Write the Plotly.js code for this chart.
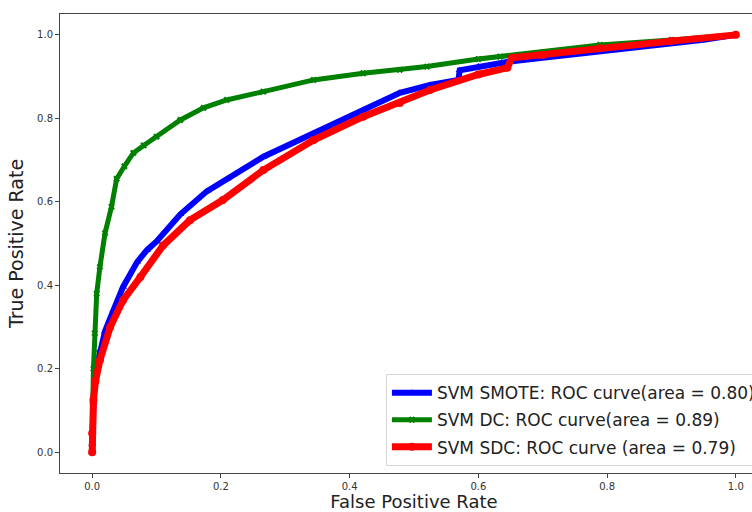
<!DOCTYPE html>
<html>
<head>
<meta charset="utf-8">
<script src="https://cdn.plot.ly/plotly-3.0.1.min.js"></script>
<style>html,body{margin:0;padding:0;overflow:hidden;background:#fff}</style>
</head>
<body>
<div id="chart"></div>
<script>
// SVM SMOTE
const smoteFpr = [0, 0, 0.002, 0.005, 0.012, 0.02, 0.033, 0.048, 0.07, 0.085, 0.10, 0.137, 0.178, 0.21, 0.266, 0.344, 0.421, 0.478, 0.525, 0.569, 0.571, 0.60, 0.649, 0.70, 0.789, 0.88, 0.95, 1.0];
const smoteTpr = [0, 0.02, 0.12, 0.19, 0.245, 0.29, 0.34, 0.396, 0.456, 0.484, 0.505, 0.570, 0.625, 0.655, 0.708, 0.764, 0.82, 0.861, 0.88, 0.892, 0.915, 0.924, 0.936, 0.945, 0.96, 0.975, 0.988, 1.0];
// SVM DC
const dcFpr = [0, 0, 0.001, 0.002, 0.004, 0.007, 0.012, 0.02, 0.03, 0.038, 0.05, 0.064, 0.08, 0.10, 0.137, 0.173, 0.209, 0.266, 0.344, 0.421, 0.478, 0.52, 0.60, 0.634, 0.70, 0.789, 0.90, 1.0];
const dcTpr = [0, 0.02, 0.125, 0.2, 0.285, 0.38, 0.444, 0.525, 0.588, 0.655, 0.685, 0.717, 0.735, 0.756, 0.796, 0.825, 0.844, 0.864, 0.892, 0.908, 0.916, 0.924, 0.942, 0.948, 0.958, 0.976, 0.988, 1.0];
// SVM SDC
const sdcFpr = [0, 0, 0.002, 0.005, 0.012, 0.028, 0.048, 0.075, 0.11, 0.152, 0.203, 0.266, 0.344, 0.421, 0.478, 0.525, 0.60, 0.645, 0.652, 0.70, 0.789, 0.90, 1.0];
const sdcTpr = [0, 0.045, 0.125, 0.17, 0.22, 0.30, 0.364, 0.42, 0.495, 0.556, 0.604, 0.676, 0.748, 0.804, 0.837, 0.868, 0.905, 0.921, 0.945, 0.952, 0.968, 0.985, 1.0];

const seriesNames = ['SVM SMOTE: ROC curve(area = 0.80)', 'SVM DC: ROC curve(area = 0.89)', 'SVM SDC: ROC curve (area = 0.79)'];
const xTicks = [0, 0.2, 0.4, 0.6, 0.8, 1.0];
const xTickText = ['0.0', '0.2', '0.4', '0.6', '0.8', '1.0'];
const yTicks = [0, 0.2, 0.4, 0.6, 0.8, 1.0];
const yTickText = ['0.0', '0.2', '0.4', '0.6', '0.8', '1.0'];

const traces = [
  {x: smoteFpr, y: smoteTpr, name: seriesNames[0], legendgroup: 'a', mode: 'lines+markers',
   line: {color: '#0000ff', width: 6}, marker: {symbol: 'triangle-up', size: 7, color: '#0000ff'}},
  {x: dcFpr, y: dcTpr, name: seriesNames[1], legendgroup: 'b', mode: 'lines+markers',
   line: {color: '#008000', width: 5}, marker: {symbol: 'x', size: 6, color: '#008000'}},
  {x: sdcFpr, y: sdcTpr, name: seriesNames[2], legendgroup: 'c', mode: 'lines+markers',
   line: {color: '#ff0000', width: 7}, marker: {symbol: 'circle', size: 8, color: '#ff0000'}}
];

const axisCommon = {
  showline: true, mirror: true, linecolor: '#444', linewidth: 1,
  ticks: 'outside', ticklen: 4, tickcolor: '#444', showgrid: false, zeroline: false,
  tickfont: {family: 'DejaVu Sans', size: 10, color: '#333'}
};

const layout = {
  width: 775, height: 512,
  margin: {l: 60, r: 7, t: 14, b: 39},
  paper_bgcolor: '#fff', plot_bgcolor: '#fff',
  font: {family: 'DejaVu Sans', color: '#222'},
  showlegend: true,
  legend: {
    x: 0.99, xanchor: 'right', y: 0.015, yanchor: 'bottom',
    bgcolor: 'rgba(255,255,255,0.8)', bordercolor: '#d6d6d6', borderwidth: 1,
    itemwidth: 40, tracegroupgap: 2,
    font: {family: 'DejaVu Sans', size: 17, color: '#222'}
  },
  xaxis: Object.assign({}, axisCommon, {
    range: [-0.05, 1.05], tickvals: xTicks, ticktext: xTickText,
    title: {text: 'False Positive Rate', font: {family: 'DejaVu Sans', size: 18, color: '#222'}, standoff: 7}
  }),
  yaxis: Object.assign({}, axisCommon, {
    range: [-0.05, 1.05], tickvals: yTicks, ticktext: yTickText,
    title: {text: 'True Positive Rate', font: {family: 'DejaVu Sans', size: 19, color: '#222'}, standoff: 8}
  })
};

Plotly.newPlot('chart', traces, layout, {displayModeBar: false, staticPlot: true});
</script>
</body>
</html>
